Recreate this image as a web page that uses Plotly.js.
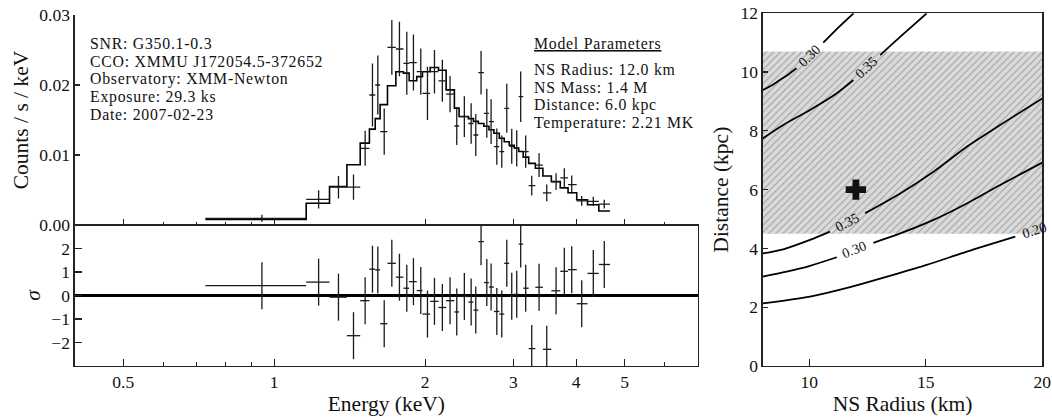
<!DOCTYPE html>
<html><head><meta charset="utf-8">
<script src="https://cdn.plot.ly/plotly-3.0.1.min.js"></script>
<style>html,body{margin:0;padding:0;background:#fff;} #chart{width:1052px;height:419px;}</style>
</head><body><div id="chart"></div>
<script>
// ---------------- spectrum (keV) ----------------
const binEdges = [0.729, 1.158, 1.289, 1.396, 1.484, 1.548, 1.590, 1.626, 1.682, 1.748, 1.810,
  1.858, 1.924, 1.975, 2.046, 2.126, 2.202, 2.287, 2.337, 2.439, 2.496, 2.553, 2.619, 2.680,
  2.742, 2.811, 2.875, 2.942, 3.010, 3.073, 3.137, 3.217, 3.317, 3.434, 3.570, 3.719, 3.854,
  4.011, 4.215, 4.439, 4.673];
const energy = [0.945, 1.226, 1.343, 1.439, 1.518, 1.570, 1.609, 1.657, 1.716, 1.777, 1.838,
  1.895, 1.960, 2.021, 2.087, 2.164, 2.242, 2.312, 2.394, 2.470, 2.523, 2.585, 2.654, 2.707,
  2.779, 2.843, 2.909, 2.976, 3.045, 3.101, 3.173, 3.262, 3.374, 3.495, 3.648, 3.789, 3.920,
  4.104, 4.328, 4.552];
const counts = [0.00095, 0.00367, 0.0054, 0.0054, 0.01095, 0.01857, 0.0200, 0.01333, 0.02538,
  0.02514, 0.0231, 0.0232, 0.0219, 0.0188, 0.0219, 0.0206, 0.0187, 0.01414, 0.01548, 0.0145,
  0.01286, 0.02176, 0.01595, 0.01476, 0.01119, 0.01048, 0.01667, 0.01125, 0.01095, 0.01833,
  0.01048, 0.00562, 0.00855, 0.0046, 0.00619, 0.00672, 0.00576, 0.00345, 0.00338, 0.00298];
const countErr = [0.0005, 0.0013, 0.0016, 0.0018, 0.0025, 0.0045, 0.0042, 0.0033, 0.0039,
  0.0039, 0.0045, 0.0040, 0.0033, 0.0038, 0.0031, 0.0030, 0.0026, 0.0027, 0.0029, 0.0029,
  0.0030, 0.0031, 0.0035, 0.0032, 0.0026, 0.0023, 0.0035, 0.0025, 0.0026, 0.0036, 0.0023,
  0.0014, 0.0017, 0.0012, 0.0012, 0.0014, 0.0013, 0.0007, 0.00064, 0.00064];
const model = [0.0008, 0.0031, 0.0055, 0.0086, 0.0117, 0.0137, 0.0152, 0.0172, 0.0199, 0.0219,
  0.0217, 0.0206, 0.0212, 0.0219, 0.0225, 0.0221, 0.0193, 0.0167, 0.0155, 0.0152, 0.0148,
  0.0145, 0.0141, 0.0136, 0.0131, 0.0124, 0.0119, 0.0114, 0.0110, 0.0105, 0.0097, 0.0088,
  0.0081, 0.0070, 0.0062, 0.0053, 0.0046, 0.0036, 0.0029, 0.0020];
const residual = [0.42, 0.57, -0.07, -1.71, -0.22, 1.12, 1.09, -1.20, 1.37, 0.78, 0.31, 0.59,
  0.21, -0.79, -0.25, -0.51, -0.22, -0.70, -0.04, -0.28, -0.62, 2.29, 0.55, 0.36, -0.68, -0.79,
  1.37, -0.03, 0.05, 2.19, 0.31, -2.26, 0.35, -2.29, 0.20, 1.03, 1.10, -0.35, 0.94, 1.32];
const energyTicks = [0.5, 1, 2, 3, 4, 5];
const energyMinorTicks = [0.6, 0.7, 0.8, 0.9, 6];

const infoLines = ['SNR: G350.1-0.3', 'CCO: XMMU J172054.5-372652', 'Observatory: XMM-Newton',
  'Exposure: 29.3 ks', 'Date: 2007-02-23'];
const modelTitle = 'Model Parameters';
const modelLines = ['NS Radius: 12.0 km', 'NS Mass: 1.4 M', 'Distance: 6.0 kpc', 'Temperature: 2.21 MK'];

// ---------------- NS radius / distance panel ----------------
const radiusRange = [8, 20];
const bandDistance = [4.5, 10.7];
const bestRadius = [12.0];
const bestDistance = [6.0];
const contourLevels = ['0.30', '0.35', '0.35', '0.30', '0.20'];
const contourRadius = [
  [8.0, 8.4, 8.74, 9.1, 9.45, null, 10.6, 11.2, 11.9],
  [8.0, 8.88, 10.03, 11.18, 11.89, null, 13.04, 13.9, 15.04],
  [8.0, 8.88, 10.03, 10.89, null, 12.4, 13.9, 15.33, 16.76, 18.19, 20.0],
  [8.0, 9.03, 10.03, 11.18, null, 12.75, 13.9, 15.33, 16.76, 18.19, 20.0],
  [8.0, 10.03, 11.75, 13.33, 15.04, 16.76, 18.84]
];
const contourDistance = [
  [9.39, 9.55, 9.73, 9.92, 10.13, null, 11.0, 11.48, 12.0],
  [7.74, 8.2, 8.71, 9.28, 9.73, null, 10.58, 11.2, 12.0],
  [3.83, 3.97, 4.29, 4.57, null, 5.2, 5.87, 6.61, 7.46, 8.2, 9.1],
  [3.04, 3.21, 3.41, 3.7, null, 4.19, 4.51, 4.97, 5.53, 6.16, 6.92],
  [2.13, 2.36, 2.68, 3.04, 3.44, 3.89, 4.4]
];
const labelRadius = [10.02, 12.45, 11.62, 11.96, 19.66];
const labelDistance = [10.56, 10.16, 4.88, 3.95, 4.62];
const labelAngle = [-44, -43, -27, -21, -17];

// ---------------- build ----------------
const W = 1052, H = 419;
const PX = x => x / W, PY = y => 1 - y / H;
const FONT = 'Liberation Serif, Times New Roman, serif';
const INK = '#111';

const errPlus = energy.map((e, i) => binEdges[i + 1] - e);
const errMinus = energy.map((e, i) => e - binEdges[i]);
const modelStep = model.concat([model[model.length - 1]]);

const traces = [];
traces.push({
  type: 'scatter', mode: 'lines', x: binEdges, y: modelStep, xaxis: 'x', yaxis: 'y',
  line: {shape: 'hv', color: '#000', width: 1.6}, hoverinfo: 'skip'
});
traces.push({
  type: 'scatter', mode: 'markers', x: energy, y: counts, xaxis: 'x', yaxis: 'y',
  marker: {size: 1, color: 'rgba(0,0,0,0)'},
  error_y: {type: 'data', array: countErr, visible: true, color: '#1a1a1a', thickness: 1.3, width: 0},
  error_x: {type: 'data', array: errPlus, arrayminus: errMinus, symmetric: false, visible: true, color: '#1a1a1a', thickness: 1.3, width: 0}
});
traces.push({
  type: 'scatter', mode: 'markers', x: energy, y: residual, xaxis: 'x2', yaxis: 'y2',
  marker: {size: 1, color: 'rgba(0,0,0,0)'},
  error_y: {type: 'constant', value: 1, visible: true, color: '#1a1a1a', thickness: 1.3, width: 0},
  error_x: {type: 'data', array: errPlus, arrayminus: errMinus, symmetric: false, visible: true, color: '#1a1a1a', thickness: 1.3, width: 0}
});
// hatched band
traces.push({
  type: 'scatter', mode: 'lines', xaxis: 'x3', yaxis: 'y3',
  x: [radiusRange[0], radiusRange[1], radiusRange[1], radiusRange[0], radiusRange[0]],
  y: [bandDistance[0], bandDistance[0], bandDistance[1], bandDistance[1], bandDistance[0]],
  fill: 'toself', fillcolor: '#dadada', line: {width: 0, color: 'rgba(0,0,0,0)'},
  fillpattern: {shape: '/', bgcolor: '#dadada', fgcolor: '#9c9c9c', size: 5, solidity: 0.2},
  hoverinfo: 'skip'
});
contourRadius.forEach((rs, i) => {
  traces.push({
    type: 'scatter', mode: 'lines', xaxis: 'x3', yaxis: 'y3', x: rs, y: contourDistance[i],
    line: {color: '#000', width: 1.8, shape: 'spline', smoothing: 0.8}, connectgaps: false,
    name: contourLevels[i], hoverinfo: 'skip'
  });
});
traces.push({
  type: 'scatter', mode: 'markers', xaxis: 'x3', yaxis: 'y3', x: bestRadius, y: bestDistance,
  marker: {symbol: 'cross', size: 17, color: '#111', line: {width: 0}}
});

const annotations = [];
const TXT = 15.8;
const wide = t => '<span style="letter-spacing:0.75px">' + t + '</span>';
const infoBase = [48.7, 66.4, 84.2, 101.9, 119.5];
infoLines.forEach((t, i) => annotations.push({
  xref: 'paper', yref: 'paper', x: PX(89.5), y: PY(infoBase[i] - 5.3), xanchor: 'left', yanchor: 'middle',
  text: wide(t), showarrow: false, borderpad: 0, borderwidth: 0, font: {family: FONT, size: TXT, color: INK}
}));
annotations.push({
  xref: 'paper', yref: 'paper', x: PX(534), y: PY(48.3 - 5.3), xanchor: 'left', yanchor: 'middle',
  text: '<u>' + wide(modelTitle) + '</u>', showarrow: false, borderpad: 0, borderwidth: 0,
  font: {family: FONT, size: TXT, color: INK}
});
const modelBase = [75, 92.7, 110.5, 128.3];
modelLines.forEach((t, i) => annotations.push({
  xref: 'paper', yref: 'paper', x: PX(534), y: PY(modelBase[i] - 5.3), xanchor: 'left', yanchor: 'middle',
  text: wide(t), showarrow: false, borderpad: 0, borderwidth: 0, font: {family: FONT, size: TXT, color: INK}
}));
contourLevels.forEach((lv, i) => annotations.push({
  xref: 'x3', yref: 'y3', x: labelRadius[i], y: labelDistance[i], text: lv, showarrow: false,
  textangle: labelAngle[i], font: {family: FONT, size: 14, color: INK}, borderpad: 0
}));

const axBase = {
  showline: true, linecolor: '#222', linewidth: 1.3, ticks: 'inside', tickcolor: '#222',
  tickwidth: 1.2, zeroline: false, showgrid: false, mirror: false,
  tickfont: {family: FONT, size: 17.5, color: INK}
};
const logRange = [Math.log10(0.4), Math.log10(7)];
const TTL = {family: FONT, size: 21.5, color: INK};
const layout = {
  width: W, height: H, margin: {l: 0, r: 0, t: 0, b: 0},
  paper_bgcolor: '#fff', plot_bgcolor: 'rgba(0,0,0,0)', showlegend: false,
  font: {family: FONT, color: INK},
  xaxis: Object.assign({}, axBase, {
    domain: [74.7 / W, 698 / W], anchor: 'y', type: 'log', range: logRange, matches: 'x2',
    tickmode: 'array', tickvals: energyTicks, showticklabels: false, ticklen: 6,
    minor: {tickmode: 'array', tickvals: energyMinorTicks, ticks: 'inside', ticklen: 3.5, tickcolor: '#222', tickwidth: 1}
  }),
  yaxis: Object.assign({}, axBase, {
    domain: [PY(225), PY(15)], anchor: 'x', range: [0, 0.03], tickmode: 'array',
    tickvals: [0, 0.01, 0.02, 0.03], tickformat: '.2f', ticklen: 5,
    title: {text: 'Counts / s / keV', font: TTL, standoff: 4}
  }),
  xaxis2: Object.assign({}, axBase, {
    domain: [74.7 / W, 698 / W], anchor: 'y2', type: 'log', range: logRange, mirror: true,
    tickmode: 'array', tickvals: energyTicks, ticktext: energyTicks.map(String), ticklen: 7,
    minor: {tickmode: 'array', tickvals: energyMinorTicks, ticks: 'inside', ticklen: 4, tickcolor: '#222', tickwidth: 1},
    ticklabelstandoff: 0,
    title: {text: 'Energy (keV)', font: TTL, standoff: 1}
  }),
  yaxis2: Object.assign({}, axBase, {
    domain: [PY(366), PY(225)], anchor: 'x2', range: [-3, 3], mirror: true,
    tickmode: 'array', tickvals: [-2, -1, 0, 1, 2], ticklen: 7,
    zeroline: true, zerolinecolor: '#000', zerolinewidth: 2.2,
    title: {text: '<i>σ</i>', font: TTL, standoff: 4}
  }),
  xaxis3: Object.assign({}, axBase, {
    domain: [762.7 / W, 1042.3 / W], anchor: 'y3', range: radiusRange, mirror: true,
    tickmode: 'array', tickvals: [10, 15, 20], ticklen: 7, ticklabelstandoff: 0,
    title: {text: 'NS Radius (km)', font: TTL, standoff: 1}
  }),
  yaxis3: Object.assign({}, axBase, {
    domain: [PY(366), PY(13.3)], anchor: 'x3', range: [0, 12], mirror: true,
    tickmode: 'array', tickvals: [0, 2, 4, 6, 8, 10, 12], ticklen: 5,
    title: {text: 'Distance (kpc)', font: TTL, standoff: 6}
  }),
  annotations: annotations
};
Plotly.newPlot('chart', traces, layout, {staticPlot: true, displayModeBar: false});
</script></body></html>
